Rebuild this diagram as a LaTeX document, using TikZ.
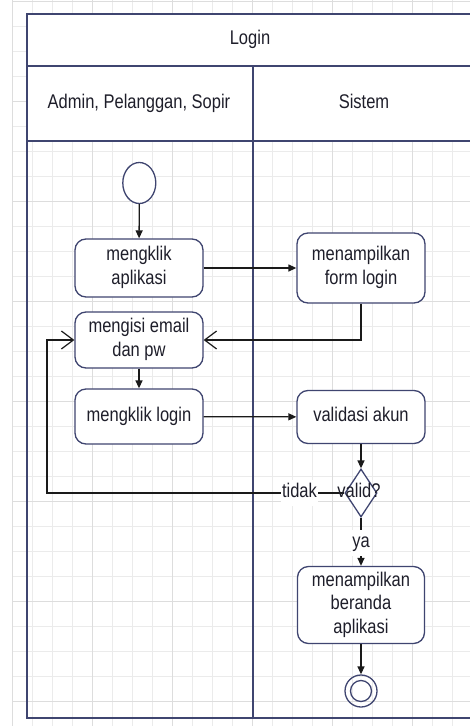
\documentclass[tikz,border=0pt]{standalone}
\usepackage{fontspec}
\usepackage{graphicx}
\setmainfont{Liberation Sans}
\usetikzlibrary{arrows.meta,shapes.geometric}
\definecolor{framec}{HTML}{3F4570}
\definecolor{gridc}{HTML}{EBEBEB}
\definecolor{gridm}{HTML}{DDDDDD}
\definecolor{txtc}{HTML}{1E1E2A}
\definecolor{linec}{HTML}{1A1A1A}
\newcommand{\tx}[1]{\scalebox{1}[1.2]{\begin{tabular}{@{}c@{}}#1\end{tabular}}}
\begin{document}
\begin{tikzpicture}[x=1pt,y=-1pt,
  txtstyle/.style={text=txtc, font=\fontsize{16.5}{19.5}\selectfont},
  act/.style={txtstyle, draw=framec, line width=1.3pt, rounded corners=11pt, fill=white, minimum width=128pt, inner sep=0pt},
  startnode/.style={ellipse, draw=framec, line width=1.3pt, fill=white, minimum width=33pt, minimum height=41pt, inner sep=0pt},
  decision/.style={diamond, draw=framec, line width=1.3pt, fill=white, minimum width=32pt, minimum height=48pt, inner sep=0pt},
  endring/.style={circle, draw=framec, line width=1.3pt, inner sep=0pt},
  flow/.style={draw=linec, line width=1.3pt, -{Triangle[length=8pt,width=7pt]}},
  backflow/.style={draw=linec, line width=1.3pt, -{Straight Barb[length=12pt,width=18pt,line width=1.2pt]}},
  guard/.style={txtstyle, fill=white, inner sep=1pt},
  lanetext/.style={txtstyle},
  laneline/.style={draw=framec, line width=2pt}
]
\clip (0,0) rectangle (470,726);
\fill[white] (0,0) rectangle (470,726);
% grid
\foreach \gx in {12,32,...,472} {\draw[gridc, line width=0.9pt] (\gx,0) -- (\gx,726);}
\foreach \gy in {1,26,...,726} {\draw[gridc, line width=0.9pt] (12,\gy) -- (472,\gy);}
\foreach \gx in {12,92,...,472} {\draw[gridm, line width=0.9pt] (\gx,0) -- (\gx,726);}
\foreach \gy in {1,101,...,726} {\draw[gridm, line width=0.9pt] (12,\gy) -- (472,\gy);}
% swimlane frame
\fill[white] (27,14) rectangle (476,141);
\draw[laneline] (476,14) -- (27,14) -- (27,718) -- (476,718);
\draw[laneline] (27,66) -- (476,66);
\draw[laneline] (27,141) -- (476,141);
\draw[laneline] (253,66) -- (253,718);
\node[lanetext] (title) at (250,40) {\tx{Login}};
\node[lanetext] (lane1) at (139,104) {\tx{Admin, Pelanggan, Sopir}};
\node[lanetext] (lane2) at (364,104) {\tx{Sistem}};
% nodes
\node[startnode] (start) at (139.3,183) {};
\node[act, minimum height=58pt] (aplikasi) at (139,268) {\tx{mengklik\\aplikasi}};
\node[act, minimum height=70pt] (formlogin) at (361,268) {\tx{menampilkan\\form login}};
\node[act, minimum height=56pt] (mengisi) at (139,340) {\tx{mengisi email\\dan pw}};
\node[act, minimum height=55pt] (klik) at (139,416.5) {\tx{mengklik login}};
\node[act, minimum height=53pt] (validasi) at (361,417) {\tx{validasi akun}};
\node[decision] (dia) at (361,493) {};
\node[act, minimum height=77pt, minimum width=127pt] (beranda) at (361,605) {\tx{menampilkan\\beranda\\aplikasi}};
\node[endring, minimum size=32pt] (endo) at (361,691) {};
\node[endring, minimum size=21pt] (endi) at (361,691) {};
\coordinate (loopc) at (47,493);
% connectors
\draw[flow] (start) -- (aplikasi);
\draw[flow] (aplikasi) -- (formlogin);
\draw[backflow] (formlogin.south) |- (mengisi.east);
\draw[flow] (mengisi) -- (klik);
\draw[flow] (klik) -- (validasi);
\draw[flow] (validasi) -- (dia);
\draw[backflow] (dia.west) -- (loopc) |- (mengisi.west);
\draw[flow] (dia.south) -- (beranda.north);
\draw[flow] (beranda) -- (endo);
\node[guard] (tidak) at (299.5,493) {\tx{tidak}};
\node[txtstyle, inner sep=0pt] (validq) at (359,493) {\tx{valid?}};
\node[guard] (ya) at (361,543) {\tx{ya}};
\end{tikzpicture}
\end{document}
